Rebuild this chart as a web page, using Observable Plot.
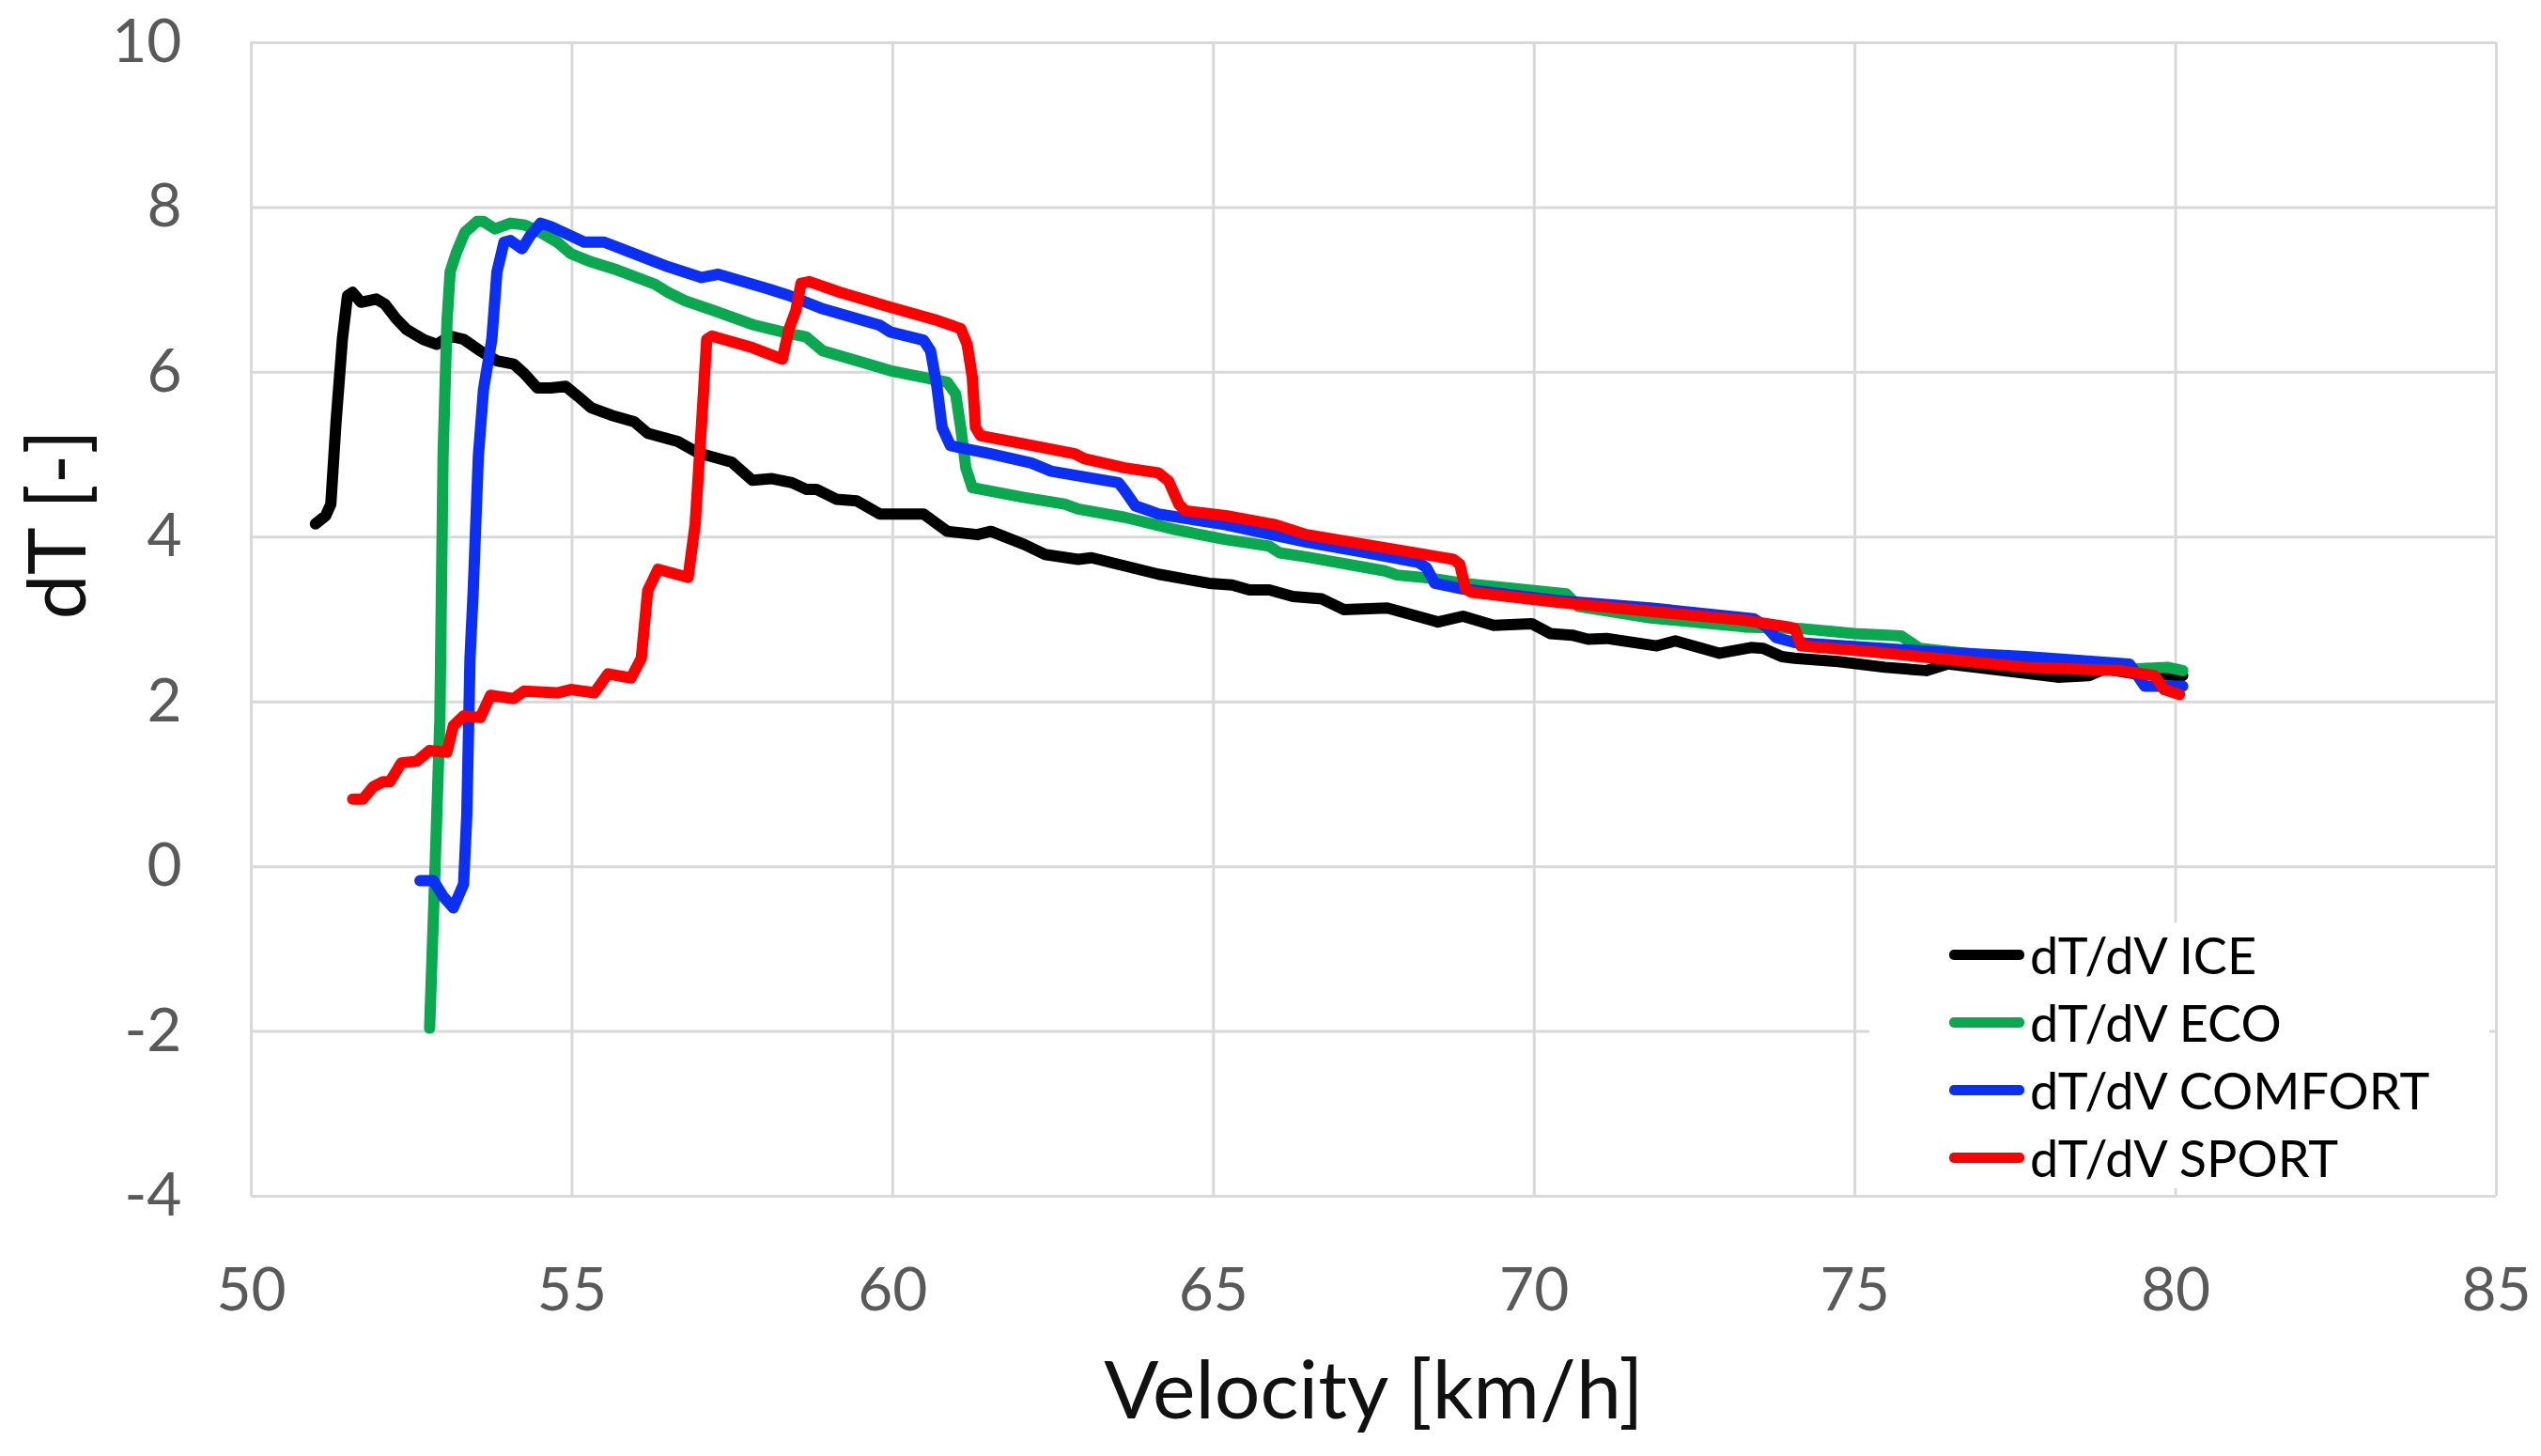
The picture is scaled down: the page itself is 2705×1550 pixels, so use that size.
<!DOCTYPE html>
<html>
<head>
<meta charset="utf-8">
<script src="https://cdn.jsdelivr.net/npm/d3@7"></script>
<script src="https://cdn.jsdelivr.net/npm/@observablehq/plot@0.6"></script>
<style>
  body { margin: 0; background: #fff; }
  #wrap { position: relative; width: 2705px; height: 1550px; }
  #legend {
    position: absolute; left: 1990px; top: 982px; width: 660px; height: 283px;
    background: #fff; font-family: Lato, sans-serif; font-size: 54px; color: #000;
  }
  .item { position: absolute; left: 85px; height: 60px; display: flex; align-items: center; }
  .sw { width: 80px; height: 11px; border-radius: 5px; margin-right: 6px; }
</style>
</head>
<body>
<div id="wrap">
  <div id="chart"></div>
  <div id="legend"></div>
</div>
<script>
const seriesNames = ["dT/dV ICE", "dT/dV ECO", "dT/dV COMFORT", "dT/dV SPORT"];
const seriesColors = ["#000000", "#0aa84f", "#0b2ff5", "#ff0000"];

const ticksX = [50, 55, 60, 65, 70, 75, 80, 85];
const ticksY = [-4, -2, 0, 2, 4, 6, 8, 10];

// ICE
const iceV = [51.00, 51.16, 51.24, 51.32, 51.42, 51.50, 51.58, 51.71, 51.95, 52.08, 52.26, 52.42, 52.68, 52.89, 53.10, 53.31, 53.57, 53.83, 54.09, 54.25, 54.46, 54.67, 54.90, 55.09, 55.30, 55.61, 55.97, 56.18, 56.65, 56.97, 57.49, 57.81, 58.12, 58.43, 58.65, 58.81, 59.12, 59.44, 59.80, 60.48, 60.64, 60.85, 61.32, 61.53, 62.05, 62.37, 62.89, 63.10, 63.62, 64.14, 64.93, 65.29, 65.56, 65.87, 66.24, 66.69, 67.03, 67.71, 68.50, 68.89, 69.37, 69.96, 70.25, 70.59, 70.84, 71.13, 71.91, 72.20, 72.89, 73.38, 73.57, 73.86, 74.06, 74.74, 75.47, 76.11, 76.45, 78.16, 78.65, 78.89, 79.38, 80.11];
const iceT = [4.16, 4.26, 4.40, 5.38, 6.40, 6.93, 6.97, 6.85, 6.89, 6.83, 6.65, 6.52, 6.40, 6.34, 6.44, 6.40, 6.26, 6.14, 6.10, 5.99, 5.81, 5.81, 5.83, 5.71, 5.57, 5.48, 5.40, 5.26, 5.16, 5.02, 4.91, 4.69, 4.71, 4.66, 4.58, 4.58, 4.46, 4.44, 4.28, 4.28, 4.19, 4.07, 4.03, 4.07, 3.91, 3.79, 3.73, 3.75, 3.65, 3.55, 3.44, 3.42, 3.36, 3.36, 3.28, 3.25, 3.12, 3.14, 2.97, 3.04, 2.93, 2.95, 2.83, 2.81, 2.76, 2.77, 2.68, 2.74, 2.59, 2.66, 2.65, 2.55, 2.53, 2.49, 2.42, 2.38, 2.46, 2.30, 2.32, 2.40, 2.34, 2.32];

// ECO
const ecoV = [52.78, 52.86, 52.94, 52.99, 53.05, 53.10, 53.20, 53.33, 53.52, 53.62, 53.80, 54.04, 54.25, 54.46, 54.77, 54.98, 55.30, 55.71, 56.29, 56.50, 56.76, 57.28, 57.81, 58.39, 58.65, 58.91, 59.44, 59.96, 60.85, 60.98, 61.06, 61.14, 61.24, 62.05, 62.68, 62.89, 63.62, 64.41, 65.19, 65.87, 66.03, 66.45, 67.67, 67.86, 68.40, 68.89, 70.50, 70.69, 71.81, 73.28, 74.16, 74.99, 75.72, 75.91, 76.01, 77.67, 79.38, 79.87, 80.11];
const ecoT = [-1.96, -0.13, 1.77, 4.98, 6.60, 7.22, 7.46, 7.70, 7.83, 7.83, 7.74, 7.81, 7.79, 7.72, 7.58, 7.44, 7.34, 7.24, 7.07, 6.97, 6.87, 6.73, 6.58, 6.47, 6.43, 6.26, 6.14, 6.02, 5.88, 5.74, 5.33, 4.84, 4.60, 4.48, 4.40, 4.34, 4.24, 4.09, 3.97, 3.89, 3.81, 3.76, 3.59, 3.54, 3.50, 3.44, 3.31, 3.16, 3.02, 2.91, 2.89, 2.83, 2.80, 2.70, 2.65, 2.51, 2.40, 2.42, 2.38];

// COMFORT
const comfortV = [52.63, 52.84, 52.99, 53.15, 53.31, 53.36, 53.39, 53.41, 53.46, 53.54, 53.62, 53.75, 53.83, 53.94, 54.04, 54.22, 54.35, 54.51, 54.67, 55.19, 55.50, 55.97, 56.50, 57.02, 57.28, 58.07, 58.39, 58.91, 59.80, 59.96, 60.48, 60.59, 60.69, 60.77, 60.90, 61.53, 62.16, 62.47, 63.52, 63.62, 63.78, 63.93, 64.14, 65.19, 66.45, 67.32, 68.20, 68.32, 68.45, 68.89, 70.35, 71.81, 73.42, 73.62, 73.77, 74.06, 76.21, 77.67, 79.28, 79.52, 79.77, 80.11];
const comfortT = [-0.17, -0.17, -0.36, -0.50, -0.21, 0.63, 1.77, 2.53, 3.35, 4.98, 5.79, 6.40, 7.22, 7.58, 7.60, 7.50, 7.66, 7.81, 7.77, 7.58, 7.58, 7.44, 7.28, 7.15, 7.19, 7.01, 6.93, 6.77, 6.57, 6.49, 6.39, 6.26, 5.82, 5.33, 5.11, 5.01, 4.90, 4.80, 4.66, 4.56, 4.38, 4.34, 4.28, 4.15, 3.94, 3.82, 3.69, 3.63, 3.44, 3.37, 3.23, 3.14, 3.01, 2.91, 2.78, 2.72, 2.61, 2.55, 2.46, 2.19, 2.19, 2.19];

// SPORT
const sportV = [51.58, 51.74, 51.90, 52.05, 52.16, 52.34, 52.58, 52.78, 53.05, 53.15, 53.31, 53.57, 53.73, 54.09, 54.25, 54.77, 54.98, 55.35, 55.56, 55.92, 56.08, 56.18, 56.34, 56.81, 56.92, 57.02, 57.10, 57.18, 57.81, 58.28, 58.38, 58.49, 58.57, 58.70, 59.18, 59.96, 60.69, 61.06, 61.16, 61.24, 61.29, 61.37, 62.05, 62.84, 62.99, 63.62, 64.14, 64.30, 64.46, 64.56, 65.19, 65.97, 66.45, 67.76, 68.74, 68.84, 68.93, 69.03, 70.35, 71.81, 73.28, 73.96, 74.06, 74.16, 75.23, 77.67, 79.13, 79.67, 79.82, 80.06];
const sportT = [0.82, 0.82, 0.97, 1.03, 1.03, 1.26, 1.28, 1.41, 1.39, 1.71, 1.83, 1.81, 2.08, 2.04, 2.13, 2.11, 2.15, 2.11, 2.34, 2.29, 2.53, 3.35, 3.61, 3.51, 4.16, 5.38, 6.40, 6.44, 6.30, 6.16, 6.52, 6.75, 7.08, 7.10, 6.97, 6.79, 6.63, 6.53, 6.34, 5.94, 5.33, 5.23, 5.13, 5.01, 4.95, 4.84, 4.78, 4.68, 4.40, 4.32, 4.26, 4.15, 4.03, 3.86, 3.73, 3.67, 3.37, 3.33, 3.21, 3.10, 2.99, 2.91, 2.89, 2.68, 2.61, 2.42, 2.38, 2.32, 2.15, 2.09];

const seriesV = [iceV, ecoV, comfortV, sportV];
const seriesT = [iceT, ecoT, comfortT, sportT];

const rows = seriesNames.flatMap((name, i) =>
  seriesV[i].map((v, j) => ({series: name, v, dT: seriesT[i][j]}))
);

// plain hyphen for negatives, no decimals
const fmt = d => (d < 0 ? "-" + Math.abs(d) : String(d));

const chart = Plot.plot({
  width: 2705,
  height: 1550,
  marginLeft: 267,
  marginRight: 48,
  marginTop: 45,
  marginBottom: 277,
  style: {fontFamily: "Lato, sans-serif", background: "#fff", overflow: "visible"},
  x: {domain: [50, 85]},
  y: {domain: [-4, 10]},
  color: {domain: seriesNames, range: seriesColors},
  marks: [
    Plot.gridX(ticksX, {stroke: "#d9d9d9", strokeOpacity: 1, strokeWidth: 3}),
    Plot.gridY(ticksY, {stroke: "#d9d9d9", strokeOpacity: 1, strokeWidth: 3}),
    Plot.axisX(ticksX, {tickSize: 0, tickPadding: 76, fontSize: 64, fill: "#595959", label: null, tickFormat: fmt}),
    Plot.axisY(ticksY, {tickSize: 0, tickPadding: 74, fontSize: 64, fill: "#595959", label: null, tickFormat: fmt}),
    Plot.line(rows, {x: "v", y: "dT", z: "series", stroke: "series", strokeWidth: 12, strokeLinejoin: "round", strokeLinecap: "round"}),
    Plot.text(["Velocity [km/h]"], {frameAnchor: "bottom", dy: 236, fontSize: 86, fill: "#111"}),
    Plot.text(["dT [-]"], {frameAnchor: "left", dx: -204, rotate: -90, fontSize: 86, fill: "#111"})
  ]
});

document.getElementById("chart").append(chart);

// legend box over the lower right corner
const legend = d3.select("#legend");
seriesNames.forEach((name, i) => {
  const item = legend.append("div").attr("class", "item").style("top", (34 + i * 72 - 30) + "px");
  item.append("div").attr("class", "sw").style("background", seriesColors[i]);
  item.append("span").text(name);
});
</script>
</body>
</html>
